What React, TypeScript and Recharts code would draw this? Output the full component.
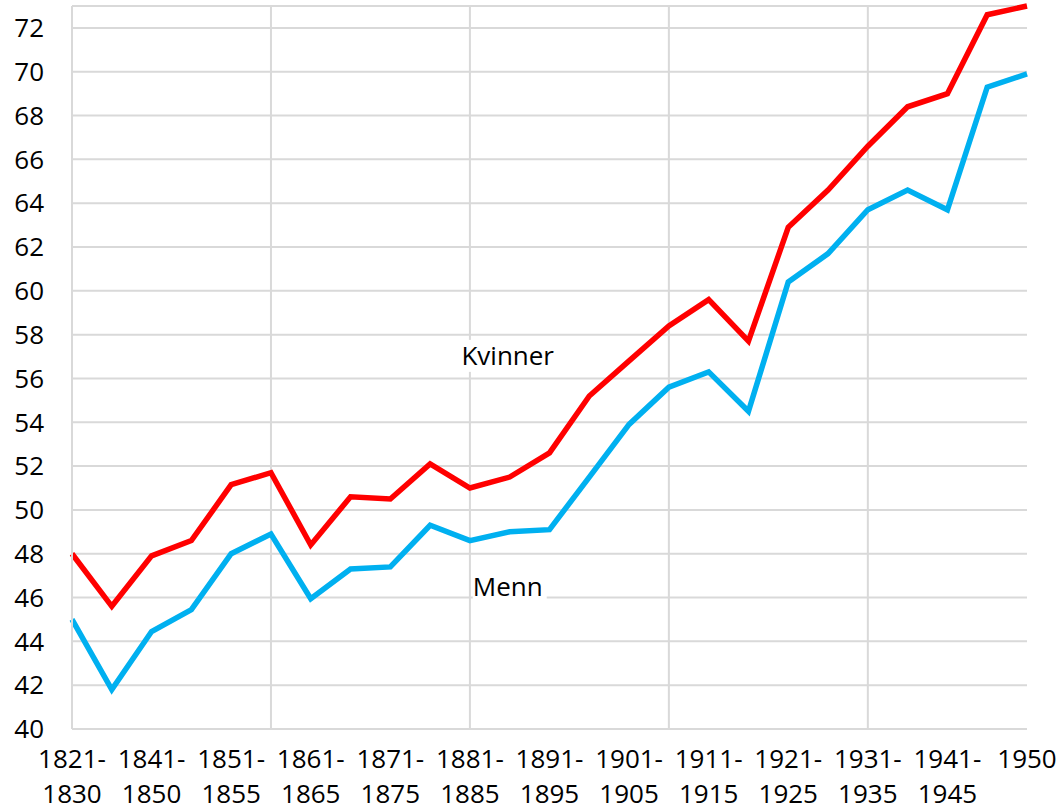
import React from "react";
import { LineChart, Line, XAxis, YAxis, CartesianGrid, ReferenceLine, ReferenceDot } from "recharts";

const categories = [
  "1821-1830", "1831-1840", "1841-1850", "1846-1855", "1851-1855", "1856-1860",
  "1861-1865", "1866-1870", "1871-1875", "1876-1880", "1881-1885", "1886-1890",
  "1891-1895", "1896-1900", "1901-1905", "1906-1910", "1911-1915", "1916-1920",
  "1921-1925", "1926-1930", "1931-1935", "1936-1940", "1941-1945", "1946-1950", "1950",
];
const kvinner = [48.0, 45.6, 47.9, 48.6, 51.15, 51.7, 48.4, 50.6, 50.5, 52.1, 51.0, 51.5, 52.6, 55.2, 56.8, 58.4, 59.6, 57.7, 62.9, 64.6, 66.6, 68.4, 69.0, 72.6, 73.0];
const menn = [45.0, 41.8, 44.45, 45.45, 48.0, 48.9, 45.95, 47.3, 47.4, 49.3, 48.6, 49.0, 49.1, 51.5, 53.9, 55.6, 56.3, 54.5, 60.4, 61.7, 63.7, 64.6, 63.7, 69.3, 69.9];
const yTicks = [40, 42, 44, 46, 48, 50, 52, 54, 56, 58, 60, 62, 64, 66, 68, 70, 72];
const verticalGridCats = [categories[5], categories[10], categories[15], categories[20]];
const seriesLabels = [
  { text: "Kvinner", cat: categories[11], value: 57.03, boxW: 96 },
  { text: "Menn", cat: categories[11], value: 46.48, boxW: 74 },
];

const data = categories.map((c, i) => ({ period: c, kvinner: kvinner[i], menn: menn[i] }));

const FONT = "'Open Sans', sans-serif";
const GRID = "#d9d9d9";

const XTick = (props: any) => {
  const { x, y, payload } = props;
  const v: string = payload.value;
  const idx = v.indexOf("-");
  const l1 = idx >= 0 ? v.slice(0, idx + 1) : v;
  const l2 = idx >= 0 ? v.slice(idx + 1) : "";
  return (
    <g>
      <text x={x} y={y + 39} textAnchor="middle" fontFamily={FONT} fontSize={26} fill="#000">{l1}</text>
      {l2 && (
        <text x={x} y={y + 74} textAnchor="middle" fontFamily={FONT} fontSize={26} fill="#000">{l2}</text>
      )}
    </g>
  );
};

const makeLabelShape = (text: string, boxW: number) => (props: any) => {
  const { cx, cy } = props;
  return (
    <g>
      <rect x={cx - boxW / 2} y={cy - 16} width={boxW} height={32} fill="#fff" />
      <text x={cx - 2} y={cy + 9} textAnchor="middle" fontFamily={FONT} fontSize={26} fill="#000">{text}</text>
    </g>
  );
};

export default function App() {
  return (
    <div style={{ position: "absolute", left: 0, top: 0, background: "#fff" }}>
      <LineChart width={1059} height={811} data={data} margin={{ top: 6, right: 32, bottom: 0, left: 0 }}>
        <CartesianGrid vertical={false} stroke={GRID} strokeWidth={2} />
        {verticalGridCats.map((c) => (
          <ReferenceLine key={c} x={c} stroke={GRID} strokeWidth={2} />
        ))}
        <XAxis
          dataKey="period"
          interval={1}
          tickLine={false}
          tickSize={0}
          tickMargin={0}
          axisLine={{ stroke: GRID, strokeWidth: 2 }}
          tick={<XTick />}
          height={82}
        />
        <YAxis
          domain={[40, 73]}
          ticks={yTicks}
          width={72}
          tickLine={false}
          tickSize={0}
          tickMargin={28}
          axisLine={{ stroke: GRID, strokeWidth: 2 }}
          tick={{ fontFamily: FONT, fontSize: 26, fill: "#000" }}
        />
        {seriesLabels.map((l) => (
          <ReferenceDot key={l.text} x={l.cat} y={l.value} r={0} shape={makeLabelShape(l.text, l.boxW)} />
        ))}
        <Line dataKey="kvinner" stroke="#ff0000" strokeWidth={5.5} dot={false} isAnimationActive={false} />
        <Line dataKey="menn" stroke="#00b0f0" strokeWidth={5.5} dot={false} isAnimationActive={false} />
      </LineChart>
    </div>
  );
}
